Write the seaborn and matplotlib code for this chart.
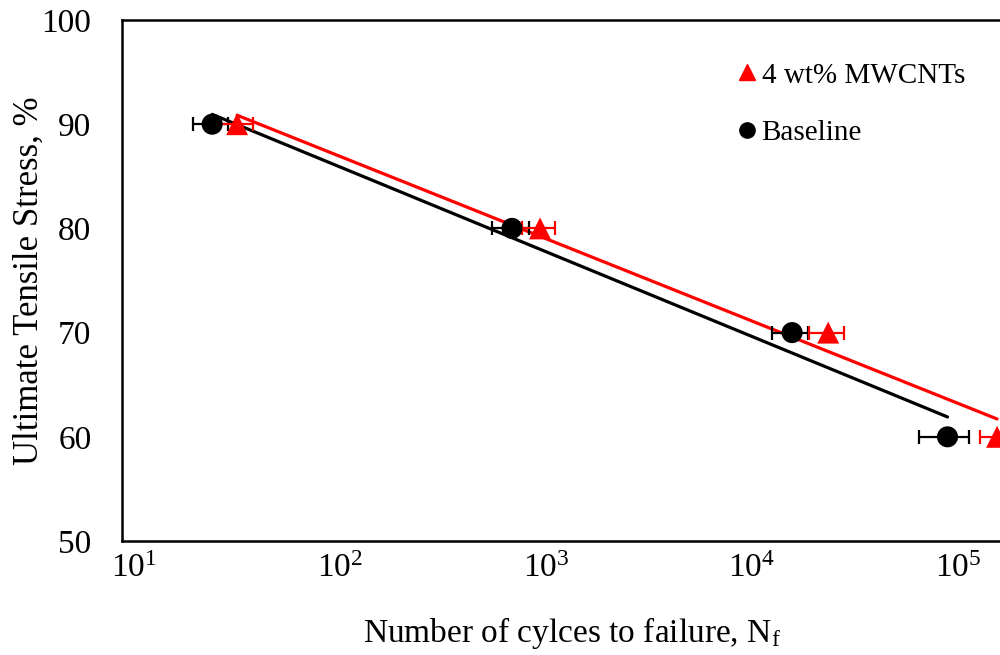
import numpy as np
import pandas as pd
import matplotlib
matplotlib.use("Agg")
import matplotlib.pyplot as plt
import matplotlib.transforms as mtransforms
import seaborn as sns

# Fatigue data: stress level (% of UTS) vs. mean cycles to failure
stress_levels = [90, 80, 70, 60]
baseline_cycles = [27.4, 782, 17900, 101700]
baseline_err = [5.3, 160, 3550, 27800]
mwcnt_cycles = [36.2, 1070, 26800, 177000]
mwcnt_err = [7.0, 195, 5200, 31000]

series_names = ["4 wt% MWCNTs", "Baseline"]
x_ticks = [1e1, 1e2, 1e3, 1e4, 1e5]
y_ticks = [50, 60, 70, 80, 90, 100]

sns.set_theme(style="white")
plt.rcParams["font.family"] = ["Liberation Serif", "DejaVu Serif"]
plt.rcParams["mathtext.fontset"] = "custom"
plt.rcParams["mathtext.rm"] = "Liberation Serif"
plt.rcParams["mathtext.it"] = "Liberation Serif"

df = pd.DataFrame({
    "stress": stress_levels * 2,
    "cycles": mwcnt_cycles + baseline_cycles,
    "err": mwcnt_err + baseline_err,
    "series": [series_names[0]] * 4 + [series_names[1]] * 4,
})

palette = {series_names[0]: "#ff0000", series_names[1]: "#000000"}
markers = {series_names[0]: "^", series_names[1]: "o"}

fig = plt.figure(figsize=(10, 6.55), dpi=100)
ax_w = 0.90
ax = fig.add_axes([0.122, 0.174, ax_w, 0.7955])
px_per_decade = 206.0

# Logarithmic trend lines (stress vs log10 of cycles), spanning each data range
for name in series_names[::-1]:
    sub = df[df["series"] == name]
    lx = np.log10(sub["cycles"].to_numpy())
    slope, icpt = np.polyfit(lx, sub["stress"].to_numpy(), 1)
    xs = np.array([sub["cycles"].min(), sub["cycles"].max()])
    trend = pd.DataFrame({"cycles": xs, "stress": slope * np.log10(xs) + icpt})
    sns.lineplot(data=trend, x="cycles", y="stress", ax=ax, color=palette[name],
                 linewidth=2.3, zorder=2)

# Horizontal error bars
for name in series_names[::-1]:
    sub = df[df["series"] == name]
    ax.errorbar(sub["cycles"], sub["stress"], xerr=sub["err"], fmt="none",
                ecolor=palette[name], elinewidth=1.6, capsize=5, capthick=1.6,
                zorder=3)

# Markers
for name in series_names[::-1]:
    sub = df[df["series"] == name]
    sns.scatterplot(data=sub, x="cycles", y="stress", ax=ax, color=palette[name],
                    marker=markers[name], s=250 if name == series_names[0] else 230,
                    edgecolor="none", linewidth=0, zorder=4, label=None)

ax.set_xscale("log")
ax.set_xlim(10, 10 ** (1 + ax_w * 1000 / px_per_decade))
ax.set_ylim(50, 100)
ax.set_xticks(x_ticks)
ax.set_xticklabels([r"$10^{%d}$" % int(np.log10(t)) for t in x_ticks])
ax.xaxis.set_minor_locator(matplotlib.ticker.NullLocator())
ax.set_yticks(y_ticks)
ax.set_yticklabels([str(t) for t in y_ticks])
ax.tick_params(axis="both", length=0, labelsize=24, colors="black")
ax.tick_params(axis="x", pad=7)
ax.tick_params(axis="y", pad=22)

# Decade labels sit slightly right of and below their tick positions
shift = mtransforms.ScaledTranslation(12 / 100, -3 / 100, fig.dpi_scale_trans)
for lbl in ax.get_xticklabels():
    lbl.set_transform(lbl.get_transform() + shift)

ax.set_xlabel(r"Number of cylces to failure, N$_{\mathrm{f}}$", fontsize=24,
              color="black", va="top")
ax.xaxis.set_label_coords(0.5, -0.142)
ax.set_ylabel("Ultimate Tensile Stress, %", fontsize=25, color="black")
ax.yaxis.set_label_coords(-0.0845, 0.5)

for side in ["left", "bottom", "top"]:
    ax.spines[side].set_visible(True)
    ax.spines[side].set_color("black")
    ax.spines[side].set_linewidth(1.8)
ax.spines["right"].set_visible(False)

handles = [
    plt.Line2D([], [], marker="^", color="#ff0000", linestyle="none", markersize=12),
    plt.Line2D([], [], marker="o", color="#000000", linestyle="none", markersize=11),
]
leg = ax.legend(handles, series_names, loc="upper left", bbox_to_anchor=(0.712, 0.945),
                bbox_transform=fig.transFigure, frameon=False, fontsize=21,
                handletextpad=0.2, labelspacing=1.07, handlelength=0.6,
                borderpad=0.4)
for t in leg.get_texts():
    t.set_color("black")

fig.savefig("out.png", dpi=100)
